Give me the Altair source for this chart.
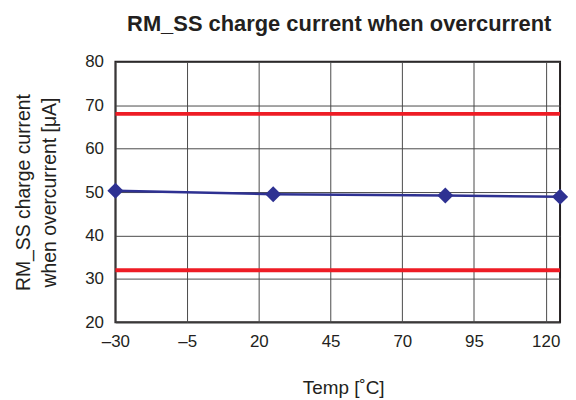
import altair as alt
import pandas as pd

temps = [-30, 25, 85, 125]
currents = [50.3, 49.5, 49.2, 48.9]
limits = [68, 32]
x_ticks = [-30, -5, 20, 45, 70, 95, 120]
y_ticks = [20, 30, 40, 50, 60, 70, 80]
chart_title = "RM_SS charge current when overcurrent"

df = pd.DataFrame({"temp": temps, "current": currents})
lim_df = pd.DataFrame({"limit": limits})

FONT = "Liberation Sans"
TXT = "#231f20"

x_enc = alt.X(
    "temp:Q",
    scale=alt.Scale(domain=[-30, 125], nice=False, zero=False),
    axis=alt.Axis(
        values=x_ticks,
        title="Temp [˚C]",
        labelExpr="replace(format(datum.value, 'd'), '−', '–')",
        labelFontSize=17,
        labelColor=TXT,
        labelFont=FONT,
        labelPadding=11,
        labelFlush=False,
        labelOverlap=False,
        ticks=False,
        domain=False,
        grid=True,
        gridColor="#4a4a4a",
        gridWidth=1,
        titleFont=FONT,
        titleFontSize=19,
        titleFontWeight="normal",
        titleColor=TXT,
        titleX=229,
        titleY=72,
        titleBaseline="alphabetic",
        titleAlign="center",
    ),
)
y_enc = alt.Y(
    "current:Q",
    scale=alt.Scale(domain=[20, 80], nice=False, zero=False),
    axis=alt.Axis(
        values=y_ticks,
        title=["RM_SS charge current", "when overcurrent [μA]"],
        labelFontSize=17,
        labelColor=TXT,
        labelFont=FONT,
        labelPadding=12,
        labelFlush=False,
        ticks=False,
        domain=False,
        grid=True,
        gridColor="#4a4a4a",
        gridWidth=1,
        titleFont=FONT,
        titleFontSize=19.5,
        titleFontWeight="normal",
        titleColor=TXT,
        titleAngle=270,
        titleX=-101,
        titleY=131,
        titleBaseline="top",
        titleAlign="center",
        titleLineHeight=26,
    ),
)

line = alt.Chart(df).mark_line(color="#2e3192", strokeWidth=2.5).encode(x=x_enc, y=y_enc)
pts = alt.Chart(df).mark_point(
    shape="diamond", filled=True, size=260, color="#2e3192", opacity=1
).encode(x="temp:Q", y="current:Q")
rules = alt.Chart(lim_df).mark_rule(color="#ee1c25", strokeWidth=4).encode(y="limit:Q")
title_txt = alt.Chart(pd.DataFrame({"t": [chart_title]})).mark_text(
    font=FONT, fontSize=22, fontWeight="bold", color=TXT,
    align="center", baseline="alphabetic",
).encode(x=alt.value(225), y=alt.value(-31), text="t:N")

chart = (
    alt.layer(rules, line, pts, title_txt)
    .properties(
        width=447,
        height=262,
        autosize=alt.AutoSizeParams(type="none"),
        padding={"left": 108, "top": 53, "right": 8, "bottom": 76},
    )
    .configure_view(stroke=TXT, strokeWidth=2)
)

chart.save("out.html", embed_options={"renderer": "svg", "actions": False})
